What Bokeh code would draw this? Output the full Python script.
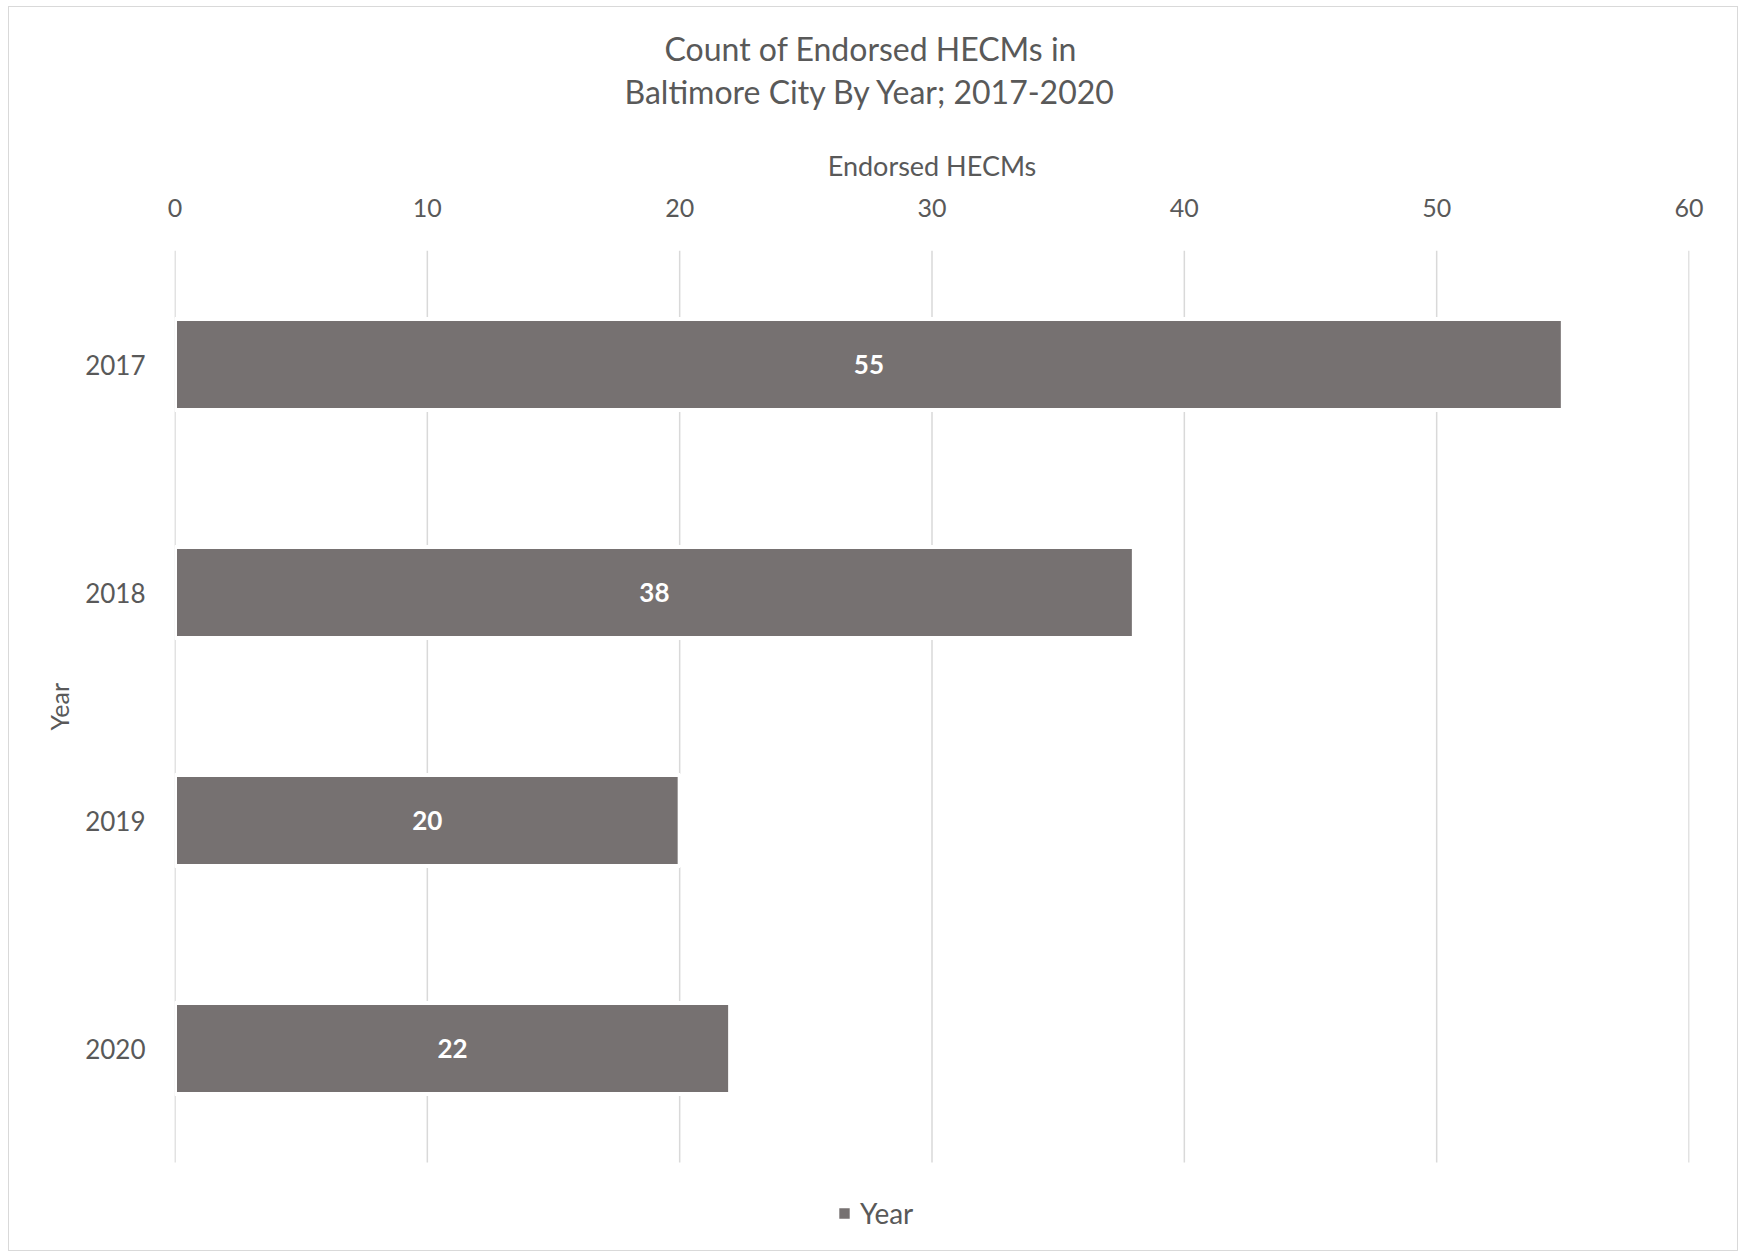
from bokeh.plotting import figure
from bokeh.models import (Range1d, Legend, LegendItem, FixedTicker,
                          LabelSet, ColumnDataSource, Title)
from bokeh.core.properties import value
from bokeh.embed import file_html
from bokeh.resources import INLINE

years = ["2017", "2018", "2019", "2020"]
counts = [55, 38, 20, 22]
x_ticks = [0, 10, 20, 30, 40, 50, 60]
title_lines = ["Count of Endorsed HECMs in", "Baltimore City By Year; 2017-2020"]
x_label = "Endorsed HECMs"
y_label = "Year"
legend_label = "Year"

FONT = "Lato"
TXT = "#595959"
BAR = "#767171"
GRID = "#d9d9d9"

W, H = 1728, 1243
BL, BR, BT = 165, 48, 243
FW, FH = W - BL - BR, H - BT
CAT_PX = 228                      # pixel height of one category band
n = len(years)
# category positions: first year on top
ypos = [n - 1 - i for i in range(n)]
y_lo = -0.5 - (FH - n * CAT_PX) / CAT_PX   # extra room below for the legend
y_hi = n - 0.5

src = ColumnDataSource(dict(y=ypos, count=counts,
                            label=[str(c) for c in counts],
                            mid=[c / 2 for c in counts]))

p = figure(width=W, height=H, frame_width=FW, frame_height=FH, title=None,
           y_range=Range1d(y_lo, y_hi),
           x_range=Range1d(-0.02, 60.02),
           x_axis_location="above",
           output_backend="svg", toolbar_location=None)
p.margin = (6, 0, 0, 8)
p.styles = {"border": "1px solid #d9d9d9"}
p.min_border_left = BL
p.min_border_right = BR
p.min_border_top = BT
p.min_border_bottom = 0
p.outline_line_color = None
p.background_fill_color = "white"
p.border_fill_color = "white"
p.xgrid.grid_line_color = None
p.ygrid.grid_line_color = None

# vertical gridlines over the category area only
p.segment(x0=x_ticks, x1=x_ticks, y0=[-0.5] * len(x_ticks), y1=[y_hi] * len(x_ticks),
          line_color=GRID, line_width=1.5)

r = p.hbar(y="y", right="count", left=0, height=0.4, source=src,
           fill_color=BAR, line_color="white", line_width=4)

# axes
xa = p.xaxis[0]
xa.ticker = FixedTicker(ticks=x_ticks)
xa.axis_label = x_label
xa.axis_line_color = None
xa.major_tick_line_color = None
xa.minor_tick_line_color = None
xa.major_label_text_font = FONT
xa.major_label_text_font_size = "25px"
xa.major_label_text_color = TXT
xa.major_label_standoff = 28
xa.axis_label_text_font = FONT
xa.axis_label_text_font_size = "27px"
xa.axis_label_text_font_style = "normal"
xa.axis_label_text_color = TXT
xa.axis_label_standoff = 14

ya = p.yaxis[0]
ya.ticker = FixedTicker(ticks=ypos)
ya.major_label_overrides = {pos: yr for pos, yr in zip(ypos, years)}
ya.axis_line_color = None
ya.major_tick_line_color = None
ya.minor_tick_line_color = None
ya.major_label_text_font = FONT
ya.major_label_text_font_size = "26px"
ya.major_label_text_color = TXT
ya.major_label_standoff = 23

# y axis title, centred on the category area
p.add_layout(Title(text=y_label, align="left", offset=520, standoff=18,
                   text_font=FONT, text_font_size="25px",
                   text_font_style="normal", text_color=TXT), "left")

# data labels
labels = LabelSet(x="mid", y="y", text="label", source=src,
                  text_align="center", text_baseline="middle",
                  text_color="white", text_font=value(FONT),
                  text_font_size="26px", text_font_style="bold")
p.add_layout(labels)

# two-line chart title, stacked above the axis (second line added first = closer)
offsets = [490, 450]
paddings = [dict(left=0, right=0, top=0, bottom=2),
            dict(left=0, right=0, top=0, bottom=35)]
for i in [1, 0]:
    p.add_layout(Title(text=title_lines[i], align="left", offset=offsets[i],
                       standoff=0, padding=paddings[i],
                       text_font=FONT, text_font_size="32px",
                       text_font_style="normal", text_color=TXT), "above")

legend = Legend(items=[LegendItem(label=legend_label, renderers=[r])],
                orientation="horizontal", location=(661, 20),
                label_text_font=FONT, label_text_font_size="28px",
                label_text_color=TXT, glyph_width=18, glyph_height=18,
                border_line_color=None, background_fill_alpha=0,
                padding=4, margin=0, label_standoff=7)
p.add_layout(legend, "center")

open("out.html", "w").write(file_html(p, INLINE))
